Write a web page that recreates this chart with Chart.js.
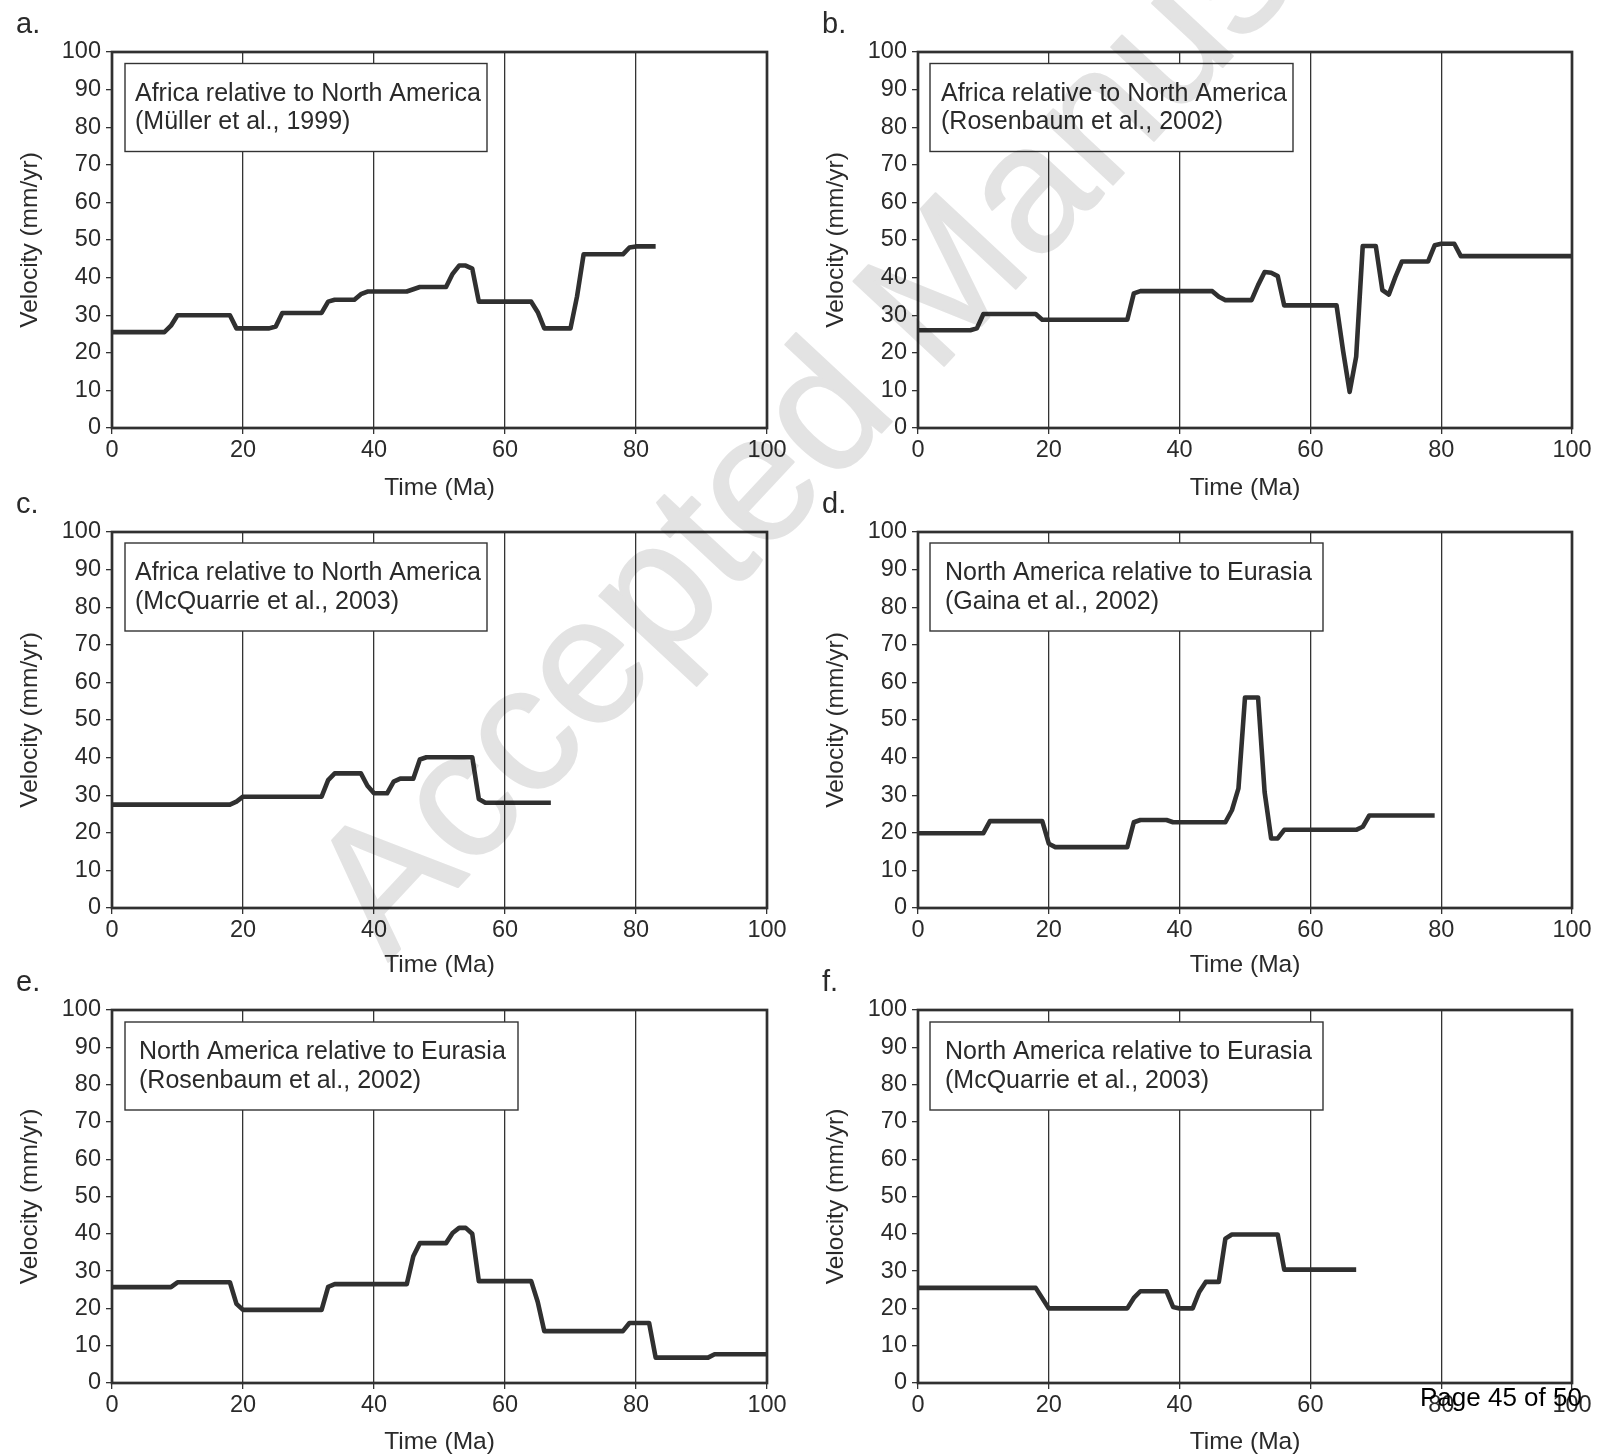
<!DOCTYPE html>
<html><head><meta charset="utf-8">
<script src="https://cdn.jsdelivr.net/npm/chart.js@4.4.1/dist/chart.umd.min.js"></script>
<style>
html,body{margin:0;padding:0;background:#fff;}
#wrap{position:relative;width:1609px;height:1456px;overflow:hidden;background:#fff;}
#wrap canvas{position:absolute;}
#overlay{position:absolute;left:0;top:0;mix-blend-mode:multiply;pointer-events:none;z-index:10;}
</style></head><body><div id="wrap"></div>
<svg id="overlay" width="1609" height="1456" xmlns="http://www.w3.org/2000/svg">
  <text transform="translate(388,962) rotate(-47)" font-family="Liberation Sans, Arial, sans-serif" font-size="180" fill="#e3e3e3" stroke="#e3e3e3" stroke-width="2" stroke-linejoin="round">Accepted Manuscript</text>
  <text x="1420" y="1406" font-family="Liberation Sans, Arial, sans-serif" font-size="26" fill="#000">Page 45 of 50</text>
</svg>
<script>
// ---- data ----
const xTicks = [0, 20, 40, 60, 80, 100];
const yTicks = [0, 10, 20, 30, 40, 50, 60, 70, 80, 90, 100];
const xTitle = 'Time (Ma)';
const yTitle = 'Velocity (mm/yr)';
const panelLetters = ['a.', 'b.', 'c.', 'd.', 'e.', 'f.'];
const boxLine1 = ['Africa relative to North America', 'Africa relative to North America', 'Africa relative to North America',
  'North America relative to Eurasia', 'North America relative to Eurasia', 'North America relative to Eurasia'];
const boxLine2 = ['(Müller et al., 1999)', '(Rosenbaum et al., 2002)', '(McQuarrie et al., 2003)',
  '(Gaina et al., 2002)', '(Rosenbaum et al., 2002)', '(McQuarrie et al., 2003)'];

const aTime = [0, 8, 9, 10, 18, 19, 24, 25, 26, 32, 33, 34, 37, 38, 39, 45, 46, 47, 51, 52, 53, 54, 55, 56, 64, 65, 66, 70, 71, 72, 78, 79, 80, 83];
const aVel  = [25.5, 25.5, 27.2, 30, 30, 26.5, 26.5, 27, 30.6, 30.6, 33.6, 34.1, 34.1, 35.6, 36.3, 36.3, 36.9, 37.5, 37.5, 41, 43.2, 43.2, 42.4, 33.6, 33.6, 30.8, 26.5, 26.5, 35, 46.2, 46.2, 48, 48.3, 48.3];

const bTime = [0, 8, 9, 10, 18, 19, 32, 33, 34, 45, 46, 47, 51, 52, 53, 54, 55, 56, 64, 65, 66, 67, 68, 70, 71, 72, 73, 74, 78, 79, 80, 82, 83, 100];
const bVel  = [26, 26, 26.5, 30.3, 30.3, 28.8, 28.8, 35.8, 36.4, 36.4, 34.9, 34, 34, 38, 41.5, 41.3, 40.4, 32.6, 32.6, 20.5, 9.6, 19, 48.4, 48.4, 36.7, 35.5, 40.2, 44.3, 44.3, 48.6, 49, 49, 45.7, 45.7];

const cTime = [0, 18, 19, 20, 32, 33, 34, 38, 39, 40, 42, 43, 44, 46, 47, 48, 55, 56, 57, 67];
const cVel  = [27.5, 27.5, 28.3, 29.6, 29.6, 34, 35.8, 35.8, 32.5, 30.5, 30.5, 33.6, 34.4, 34.4, 39.5, 40.1, 40.1, 29, 28, 28];

const dTime = [0, 10, 11, 19, 20, 21, 32, 33, 34, 38, 39, 47, 48, 49, 50, 52, 53, 54, 55, 56, 67, 68, 69, 79];
const dVel  = [19.9, 19.9, 23.1, 23.1, 17.1, 16.2, 16.2, 22.8, 23.4, 23.4, 22.8, 22.8, 26, 31.8, 56, 56, 30.8, 18.5, 18.5, 20.8, 20.8, 21.6, 24.6, 24.6];

const eTime = [0, 9, 10, 18, 19, 20, 32, 33, 34, 45, 46, 47, 51, 52, 53, 54, 55, 56, 64, 65, 66, 78, 79, 82, 83, 91, 92, 100];
const eVel  = [25.7, 25.7, 27, 27, 21.2, 19.6, 19.6, 25.8, 26.5, 26.5, 34, 37.5, 37.5, 40.2, 41.6, 41.6, 40, 27.3, 27.3, 21.7, 13.9, 13.9, 16.1, 16.1, 6.8, 6.8, 7.7, 7.7];

const fTime = [0, 18, 20, 32, 33, 34, 38, 39, 40, 42, 43, 44, 46, 47, 48, 55, 56, 67];
const fVel  = [25.5, 25.5, 20, 20, 22.8, 24.6, 24.6, 20.4, 20, 20, 24.4, 27.1, 27.1, 38.7, 39.8, 39.8, 30.4, 30.4];

const seriesTime = [aTime, bTime, cTime, dTime, eTime, fTime];
const seriesVel = [aVel, bVel, cVel, dVel, eVel, fVel];

// ---- layout (pixels) ----
const geom = [
  {left: 112, right: 767,  top: 52,   bottom: 428,  titleY: 488.5, boxX: 13, boxY: 11.5, boxW: 362, pad: 10},
  {left: 918, right: 1572, top: 52,   bottom: 428,  titleY: 488.5, boxX: 12, boxY: 11.5, boxW: 363, pad: 11},
  {left: 112, right: 767,  top: 532,  bottom: 908,  titleY: 965.5, boxX: 13, boxY: 11,   boxW: 362, pad: 10},
  {left: 918, right: 1572, top: 532,  bottom: 908,  titleY: 965.5, boxX: 12, boxY: 11,   boxW: 393, pad: 15},
  {left: 112, right: 767,  top: 1010, bottom: 1383, titleY: 1442,  boxX: 13, boxY: 12,   boxW: 393, pad: 14},
  {left: 918, right: 1572, top: 1010, bottom: 1383, titleY: 1442,  boxX: 12, boxY: 12,   boxW: 393, pad: 15}
];
const FONT = '"Liberation Sans", Arial, Helvetica, sans-serif';
const INK = '#2a2a2a';
const LINE = '#303030';
const TITLE_HALF = 24.5 * 1.2 / 2;

const panelPlugin = {
  id: 'panelDeco',
  afterDatasetsDraw(chart, args, o) {
    const {ctx} = chart;
    const {left, top, right, bottom} = chart.chartArea;
    ctx.save();
    ctx.strokeStyle = LINE;
    ctx.lineWidth = 2.7;
    ctx.strokeRect(left, top, right - left, bottom - top);
    const bx = left + o.boxX, by = top + o.boxY;
    ctx.fillStyle = '#fff';
    ctx.fillRect(bx, by, o.boxW, 88);
    ctx.lineWidth = 1.4;
    ctx.strokeStyle = '#333';
    ctx.strokeRect(bx, by, o.boxW, 88);
    ctx.fillStyle = INK;
    ctx.font = '25px ' + FONT;
    ctx.textBaseline = 'alphabetic';
    ctx.textAlign = 'left';
    ctx.fillText(o.line1, bx + o.pad, by + 37);
    ctx.fillText(o.line2, bx + o.pad, by + 65.5);
    ctx.font = '29px ' + FONT;
    ctx.fillText(o.letter, left - 96, top - 19);
    ctx.restore();
  }
};

const wrap = document.getElementById('wrap');
geom.forEach((g, i) => {
  const cl = g.left - 112;
  const ct = g.top - 52;
  const W = 800;
  const H = Math.ceil(g.titleY + TITLE_HALF + 2 - ct);
  const cv = document.createElement('canvas');
  cv.width = W; cv.height = H;
  cv.style.left = cl + 'px'; cv.style.top = ct + 'px';
  cv.style.width = W + 'px'; cv.style.height = H + 'px';
  wrap.appendChild(cv);
  const xH = g.titleY + TITLE_HALF - g.bottom;
  const padBottom = H - (g.titleY - ct + TITLE_HALF);
  const pts = seriesTime[i].map((t, k) => ({x: t, y: seriesVel[i][k]}));
  new Chart(cv, {
    type: 'line',
    data: {datasets: [{data: pts, borderColor: LINE, borderWidth: 4.6, pointRadius: 0, tension: 0,
      borderJoinStyle: 'round', borderCapStyle: 'butt', fill: false}]},
    options: {
      responsive: false, animation: false, devicePixelRatio: 1,
      layout: {padding: {left: 16, top: 52, right: W - (g.right - cl), bottom: padBottom}},
      plugins: {legend: {display: false}, tooltip: {enabled: false},
        panelDeco: {boxX: g.boxX, boxY: g.boxY, boxW: g.boxW, pad: g.pad,
          line1: boxLine1[i], line2: boxLine2[i], letter: panelLetters[i]}},
      scales: {
        x: {type: 'linear', min: 0, max: 100,
          afterBuildTicks: s => { s.ticks = xTicks.map(v => ({value: v})); },
          afterFit: s => { s.height = xH; s.paddingLeft = 0; s.paddingRight = 0; s.paddingTop = 0; s.paddingBottom = 0; },
          border: {display: false},
          grid: {color: '#333', lineWidth: 1.3, tickLength: 6, drawOnChartArea: true, drawTicks: true},
          ticks: {color: INK, font: {family: FONT, size: 23.5, lineHeight: 1.2}, padding: 2.5, maxRotation: 0, autoSkip: false},
          title: {display: true, text: xTitle, color: INK, font: {family: FONT, size: 24.5, lineHeight: 1.2}, padding: 0}
        },
        y: {type: 'linear', min: 0, max: 100,
          afterBuildTicks: s => { s.ticks = yTicks.map(v => ({value: v})); },
          afterFit: s => { s.width = 96; s.paddingTop = 0; s.paddingBottom = 0; s.paddingLeft = 0; s.paddingRight = 0; },
          border: {display: false},
          grid: {color: '#333', lineWidth: 1.3, tickLength: 6, drawOnChartArea: false, drawTicks: true},
          ticks: {color: INK, font: {family: FONT, size: 23.5, lineHeight: 1.2}, padding: 5, autoSkip: false},
          title: {display: true, text: yTitle, color: INK, font: {family: FONT, size: 24.5, lineHeight: 1.2}, padding: 0}
        }
      }
    },
    plugins: [panelPlugin]
  });
});
</script>
</body></html>
